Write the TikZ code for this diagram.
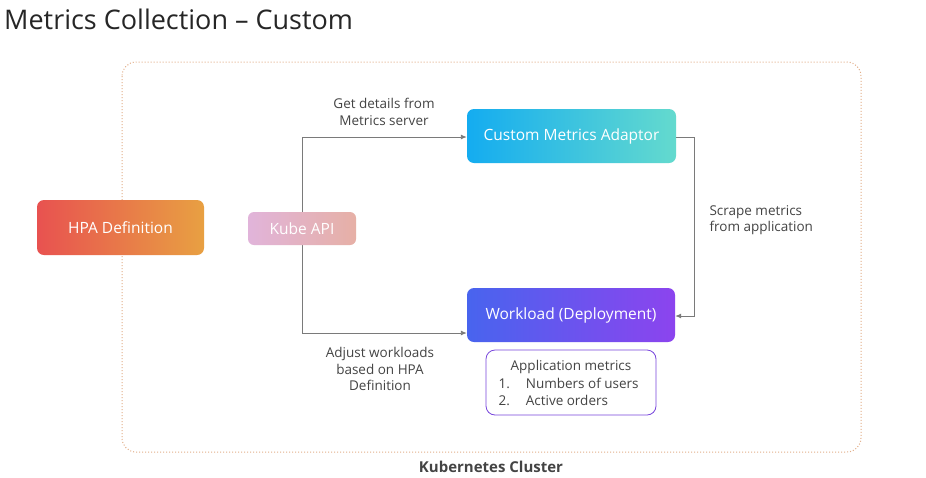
\documentclass[tikz,border=0pt]{standalone}
\usepackage{fontspec}
\setmainfont{Open Sans}
\usetikzlibrary{arrows.meta}
\definecolor{linegray}{HTML}{7A7A7A}
\definecolor{txtgray}{HTML}{444444}
\definecolor{clusterc}{HTML}{E2AE88}
\tikzset{
  box/.style={rounded corners=7pt, text=white, font=\fontsize{15.5}{17}\selectfont, inner sep=0pt},
  lbl/.style={text=txtgray, font=\fontsize{13.5}{16.5}\selectfont, align=center},
  conn/.style={draw=linegray, line width=0.9pt, -{Latex[length=6pt,width=5pt]}},
}
\begin{document}
\begin{tikzpicture}[x=1pt,y=-1pt]
\useasboundingbox (0,0) rectangle (926,477);
\fill[white] (0,0) rectangle (926,477);
% title
\node[anchor=west, text=black!85, font=\fontsize{27}{30}\selectfont, inner sep=0pt] (title) at (4,19) {Metrics Collection -- Custom};
% cluster
\draw[clusterc, dotted, line width=1pt, rounded corners=14pt] (122,62) rectangle (861,452);
\node[text=txtgray, font=\bfseries\fontsize{15}{17}\selectfont] (cl) at (491,467) {Kubernetes Cluster};
% vertical connector line (behind kube box)
\coordinate (top) at (302,137);
\coordinate (bot) at (302,333);
\draw[linegray, line width=0.9pt] (top) -- (bot);
% boxes
\node[box, left color={rgb,255:red,232;green,82;blue,80}, right color={rgb,255:red,232;green,160;blue,66}, minimum width=167pt, minimum height=55pt] (hpa) at (120.5,227.5) {HPA Definition};
\node[box, rounded corners=6pt, left color={rgb,255:red,225;green,180;blue,218}, right color={rgb,255:red,230;green,176;blue,166}, minimum width=108pt, minimum height=33pt] (kube) at (302,228.5) {Kube API};
\node[box, shading angle=60, left color={rgb,255:red,20;green,172;blue,240}, right color={rgb,255:red,100;green,218;blue,206}, minimum width=209pt, minimum height=54pt] (cma) at (571.5,136) {Custom Metrics Adaptor};
\node[box, shading angle=70, left color={rgb,255:red,72;green,100;blue,238}, right color={rgb,255:red,140;green,68;blue,238}, minimum width=208pt, minimum height=54pt] (wl) at (571,315) {Workload (Deployment)};
% connectors
\draw[conn] (top) -- (cma.west |- top);
\draw[conn] (bot) -- (wl.west |- bot);
\coordinate (rt) at (694,137);
\coordinate (rb) at (694,316);
\draw[conn] (cma.east |- rt) -- (rt) -- (rb) -- (wl.east |- rb);
% metrics box
\node[draw={rgb,255:red,120;green,70;blue,220}, rounded corners=9pt, line width=0.8pt, minimum width=170pt, minimum height=65pt, fill=white] (am) at (571,382.5) {};
\node[lbl, anchor=north] (amt) at (571,357) {Application metrics};
\node[lbl, anchor=west] (am1) at (495,383) {1.\hspace{16pt}Numbers of users};
\node[lbl, anchor=west] (am2) at (495,400) {2.\hspace{16pt}Active orders};
% labels
\node[lbl] (l1) at (384,112) {Get details from\\Metrics server};
\node[lbl] (l2) at (380,369) {Adjust workloads\\based on HPA\\Definition};
\node[lbl, align=left, anchor=west] (l3) at (706,220) {Scrape metrics\\from application};
\end{tikzpicture}
\end{document}
